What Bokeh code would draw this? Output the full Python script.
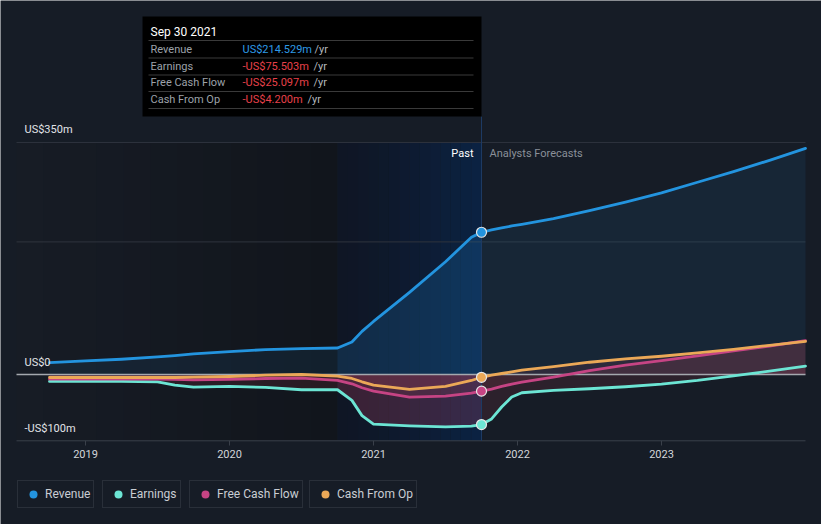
from bokeh.plotting import figure
from bokeh.models import Range1d, BoxAnnotation, Label, Legend, LegendItem
from bokeh.embed import file_html
from bokeh.resources import INLINE
from bokeh.core.properties import value

# ---------------- data ----------------
years = [2018.75, 2019.0, 2019.25, 2019.5, 2019.62, 2019.75, 2020.0, 2020.25, 2020.5,
         2020.75, 2020.85, 2020.92, 2021.0, 2021.25, 2021.5, 2021.68, 2021.75,
         2021.82, 2021.89, 2021.96, 2022.03, 2022.25, 2022.5, 2022.75, 2023.0,
         2023.25, 2023.5, 2023.75, 2024.0]
revenue = [18, 20.5, 23, 26.5, 28.5, 31, 34.5, 37.5, 39,
           40, 49, 65, 80, 124, 170, 207, 214.529,
           218, 221, 224, 226.5, 235, 247, 260, 274,
           290, 306, 323, 341]
earnings = [-10.5, -10.5, -10.5, -11, -16, -19, -18, -19.5, -23,
            -23, -39, -62, -75, -77.5, -79, -78, -75.503,
            -67, -49, -34, -27.5, -24, -21.5, -18.5, -14.5,
            -9, -2, 5, 12.5]
fcf = [-7, -7, -7, -7, -7.5, -8, -7.5, -6, -5.5,
       -9, -14, -20, -25, -34, -32.5, -28, -25.097,
       -22, -18, -14.5, -11.5, -4, 6, 14, 21,
       28, 35.5, 43, 51]
cfo = [-4.5, -4.5, -4.5, -4.5, -4.5, -4, -3, -1, 0,
       -2.5, -6, -11, -16, -22.5, -18, -9, -4.2,
       -1, 1.5, 4, 6.5, 12, 18.5, 23.5, 27.5,
       32.5, 38, 44, 50]

series_names = ["Revenue", "Earnings", "Free Cash Flow", "Cash From Op"]
series_colors = ["#2394df", "#6ce5d4", "#c64484", "#eba857"]

hover_date = 2021.75
hover_label = "Sep 30 2021"
past_start = 2020.75

x_ticks = [2019, 2020, 2021, 2022, 2023]
x_tick_labels = ["2019", "2020", "2021", "2022", "2023"]
y_ticks = [350, 0, -100]
y_tick_labels = ["US$350m", "US$0", "-US$100m"]
grid_values = [350, 200]

# ---------------- layout helpers (pixel -> data) ----------------
W, H = 821, 524
BG = "#161c26"
FONT_NAME = "Roboto"
FONT = value(FONT_NAME)


def X(px):
    return 2019 + (px - 85) / 144.0


def Y(py):
    return (374 - py) / 0.663


def mix(c1, c2, t):
    a = [int(c1[i:i + 2], 16) for i in (1, 3, 5)]
    b = [int(c2[i:i + 2], 16) for i in (1, 3, 5)]
    return "#%02x%02x%02x" % tuple(round(a[k] + (b[k] - a[k]) * t) for k in range(3))


frame_left = X(16)
frame_right = years[-1]
y_top = Y(142)
y_bottom = y_ticks[-1]

p = figure(width=W, height=H, x_range=Range1d(X(0), X(W)), y_range=Range1d(Y(H), Y(0)),
           min_border=0, toolbar_location=None, output_backend="svg",
           x_axis_location=None, y_axis_location=None,
           background_fill_color=BG, border_fill_color=BG, outline_line_color=None)
p.grid.visible = False

# background gradients
n = 12
for i in range(n):
    l = frame_left + (past_start - frame_left) * i / n
    r = frame_left + (past_start - frame_left) * (i + 1) / n
    p.add_layout(BoxAnnotation(left=l, right=r, top=y_top, bottom=y_bottom,
                               fill_color=mix("#171c25", "#11151c", i / (n - 1)),
                               fill_alpha=1, line_color=None, level="image"))
n2 = 14
for i in range(n2):
    l = past_start + (hover_date - past_start) * i / n2
    r = past_start + (hover_date - past_start) * (i + 1) / n2
    t = (i / (n2 - 1)) ** 1.3
    p.add_layout(BoxAnnotation(left=l, right=r, top=y_top, bottom=y_bottom,
                               fill_color=mix("#0f1625", "#0b2242", t),
                               fill_alpha=1, line_color=None, level="image"))

# grid lines
p.segment(x0=[frame_left] * len(grid_values), x1=[frame_right] * len(grid_values),
          y0=grid_values, y1=grid_values, line_color="#2e343e", line_width=1)
# bottom axis line + ticks
p.segment(x0=[frame_left], x1=[frame_right], y0=[y_bottom], y1=[y_bottom],
          line_color="#3a404a", line_width=1)
p.segment(x0=x_ticks, x1=x_ticks, y0=[y_bottom] * len(x_ticks), y1=[Y(445)] * len(x_ticks),
          line_color="#3a404a", line_width=1)

# area fills
p.varea(x=years, y1=0, y2=revenue, fill_color=series_colors[0], fill_alpha=0.09)
for ser in (earnings, fcf, cfo):
    p.varea(x=years, y1=0, y2=ser, fill_color="#e05060", fill_alpha=0.11)

# stronger tint inside the highlighted "past" year
i0, i1 = years.index(past_start), years.index(hover_date) + 1
p.varea(x=years[i0:i1], y1=0, y2=revenue[i0:i1], fill_color=series_colors[0], fill_alpha=0.1)
p.varea(x=years[i0:i1], y1=0, y2=earnings[i0:i1], fill_color="#d04a78", fill_alpha=0.12)

# zero line
p.segment(x0=[frame_left], x1=[frame_right], y0=[0], y1=[0], line_color="#a4a8ae", line_width=1.5)

# hover vertical line
p.segment(x0=[hover_date], x1=[hover_date], y0=[y_bottom], y1=[Y(116)],
          line_color="#1d3a63", line_width=1)

# series lines
for ser, col in zip((revenue, earnings, fcf, cfo), series_colors):
    p.line(years, ser, line_color=col, line_width=2.8, line_join="round", line_cap="round")

# hover markers
idx = years.index(hover_date)
hover_vals = [revenue[idx], earnings[idx], fcf[idx], cfo[idx]]
p.scatter(x=[hover_date] * 4, y=hover_vals, fill_color=series_colors, line_color="#e6e6e6",
          line_width=1.2, size=10)

# axis tick labels
p.text(x=x_ticks, y=[y_bottom] * len(x_ticks), text=x_tick_labels, text_align="center",
       text_baseline="middle", y_offset=13, text_font=FONT, text_font_size="11px",
       text_color="#d2d5da")
p.text(x=[X(24)] * len(y_ticks), y=y_ticks, text=y_tick_labels, text_align="left",
       text_baseline="middle", y_offset=-12.5, text_font=FONT, text_font_size="11px",
       text_color="#e2e4e8")

# Past / Analysts Forecasts
p.add_layout(Label(x=X(473), y=Y(153), text="Past", text_align="right", text_baseline="middle",
                   text_font=FONT_NAME, text_font_size="11px", text_color="#ffffff"))
p.add_layout(Label(x=X(489), y=Y(153), text="Analysts Forecasts", text_align="left",
                   text_baseline="middle", text_font=FONT_NAME, text_font_size="11px",
                   text_color="#8a9099"))

# tooltip
p.add_layout(BoxAnnotation(left=X(142), right=X(481), top=Y(16), bottom=Y(116),
                           fill_color="#000000", fill_alpha=1, line_color=None))
for sy in (40, 57.5, 74.5, 91, 108):
    p.add_layout(BoxAnnotation(left=X(148), right=X(473), top=Y(sy - 0.5), bottom=Y(sy + 0.5),
                               fill_color="#3a3a3a", fill_alpha=1, line_color=None))
p.add_layout(Label(x=X(150), y=Y(31), text=hover_label, text_align="left", text_baseline="middle",
                   text_font=FONT_NAME, text_font_size="12px", text_color="#ffffff"))


def fmt(v):
    return ("-" if v < 0 else "") + "US$%.3fm" % abs(v)


row_y = [48.5, 65.5, 82, 99]
yr_x = [314, 313, 313, 307]
for name, v, ry, yx in zip(series_names, hover_vals, row_y, yr_x):
    p.add_layout(Label(x=X(150), y=Y(ry), text=name, text_align="left", text_baseline="middle",
                       text_font=FONT_NAME, text_font_size="11px", text_color="#9da2a9"))
    p.add_layout(Label(x=X(242), y=Y(ry), text=fmt(v), text_align="left", text_baseline="middle",
                       text_font=FONT_NAME, text_font_size="11px",
                       text_color="#2e9ae6" if v >= 0 else "#e8414a"))
    p.add_layout(Label(x=X(yx), y=Y(ry), text="/yr", text_align="left", text_baseline="middle",
                       text_font=FONT_NAME, text_font_size="11px", text_color="#b4b8be"))

# legend (one box per series)
legend_px = [17, 102, 189, 309]
nan = float("nan")
for name, col, lx in zip(series_names, series_colors, legend_px):
    r = p.scatter(x=[nan], y=[nan], size=8, fill_color=col, line_color=None, marker="circle")
    leg = Legend(items=[LegendItem(label=name, renderers=[r])], location=(lx, H - 508),
                 orientation="horizontal", padding=3, glyph_width=24, glyph_height=20,
                 label_standoff=0, spacing=0, margin=0,
                 border_line_color="#3b414c", border_line_width=1,
                 background_fill_color=BG, background_fill_alpha=1,
                 label_text_font=FONT_NAME, label_text_font_size="12px",
                 label_text_color="#c9cdd3")
    p.add_layout(leg)

open("out.html", "w").write(file_html(p, INLINE))
